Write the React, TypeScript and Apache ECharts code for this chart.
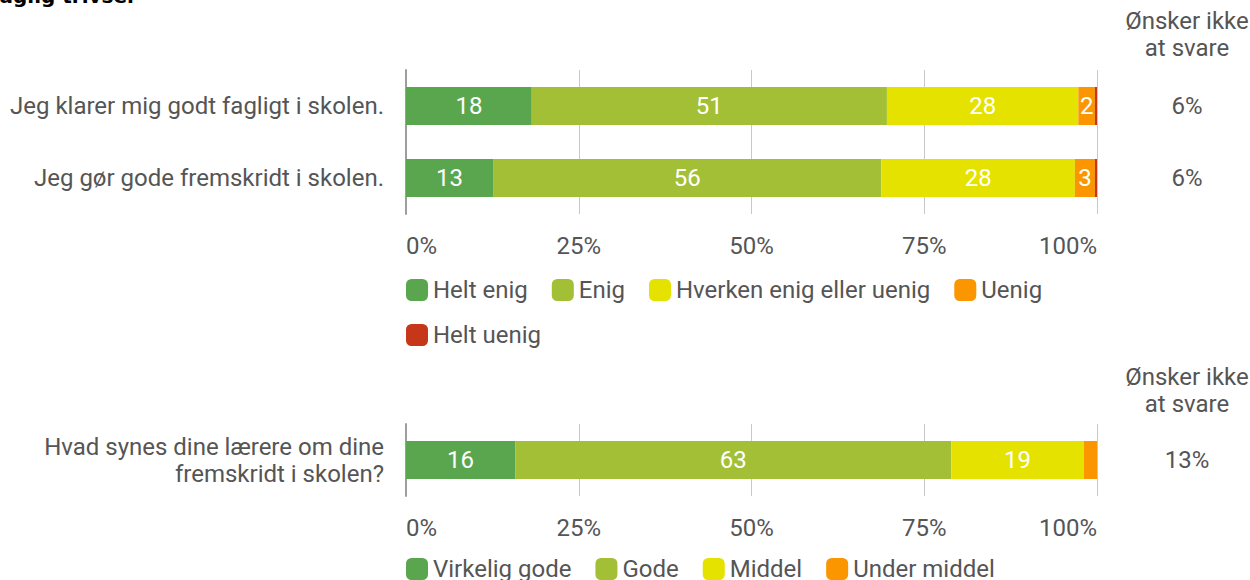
import React, { useEffect, useRef } from "react";
import * as echarts from "echarts";

const topCategories = ["Jeg klarer mig godt fagligt i skolen.", "Jeg gør gode fremskridt i skolen."];
const topSeriesNames = ["Helt enig", "Enig", "Hverken enig eller uenig", "Uenig", "Helt uenig"];
const topValues = [
  [18.2, 12.6],
  [51.4, 56.2],
  [27.7, 28.0],
  [2.4, 2.9],
  [0.3, 0.3],
];
const topNoAnswer = ["6%", "6%"];

const bottomCategories = ["Hvad synes dine lærere om dine\nfremskridt i skolen?"];
const bottomSeriesNames = ["Virkelig gode", "Gode", "Middel", "Under middel"];
const bottomValues = [[15.8], [63.1], [19.2], [1.9]];
const bottomNoAnswer = ["13%"];

const tickLabels = [0, 25, 50, 75, 100];
const colors = ["#5aa64f", "#a3bf36", "#e6e200", "#fb9600", "#c63619"];
const textColor = "#555555";
const FONT = "Roboto";
const FS = 24;

export default function App() {
  const ref = useRef<HTMLDivElement>(null);
  useEffect(() => {
    if (!ref.current) return;
    const chart = echarts.init(ref.current, null, { renderer: "svg" });

    const xAxisBase = (gridIndex: number) => ({
      type: "value",
      gridIndex,
      min: tickLabels[0],
      max: tickLabels[tickLabels.length - 1],
      interval: 25,
      axisLine: { show: false },
      axisTick: { show: false },
      splitLine: { show: true, lineStyle: { color: "#c8c8c8", width: 1 } },
      axisLabel: {
        formatter: "{value}%",
        fontSize: FS,
        fontFamily: FONT,
        color: textColor,
        margin: 20,
        alignMinLabel: "left",
        alignMaxLabel: "right",
      },
    });
    const yAxisBase = (gridIndex: number, data: string[]) => ({
      type: "category",
      gridIndex,
      data,
      inverse: true,
      axisLine: { show: true, lineStyle: { color: "#9e9e9e", width: 2 } },
      axisTick: { show: false },
      axisLabel: {
        fontSize: FS,
        fontFamily: FONT,
        color: textColor,
        margin: 22,
        lineHeight: 27,
        align: "right",
      },
    });

    const labelFmt = (p: any) => String(Math.round(p.value));

    const topSeries = topSeriesNames.map((name, i) => ({
      name,
      type: "bar",
      stack: "top",
      xAxisIndex: 0,
      yAxisIndex: 0,
      barWidth: 38,
      itemStyle: { color: colors[i] },
      label: {
        show: i < 4,
        position: "inside",
        color: "#ffffff",
        fontSize: FS,
        fontFamily: FONT,
        formatter: labelFmt,
      },
      data: topValues[i],
    }));
    const bottomSeries = bottomSeriesNames.map((name, i) => ({
      name,
      type: "bar",
      stack: "bottom",
      xAxisIndex: 1,
      yAxisIndex: 1,
      barWidth: 38,
      itemStyle: { color: colors[i] },
      label: {
        show: i < 3,
        position: "inside",
        color: "#ffffff",
        fontSize: FS,
        fontFamily: FONT,
        formatter: labelFmt,
      },
      data: bottomValues[i],
    }));

    const legendBase = {
      orient: "horizontal",
      left: 406,
      padding: 0,
      itemGap: 24,
      itemWidth: 22,
      itemHeight: 22,
      icon: "roundRect",
      textStyle: { fontSize: FS, fontFamily: FONT, color: textColor, lineHeight: 22 },
    };

    const sideText = (text: string, y: number) => ({
      type: "text",
      x: 1187,
      y,
      style: {
        text,
        align: "center",
        verticalAlign: "middle",
        font: `${FS}px ${FONT}`,
        fill: textColor,
        lineHeight: 27,
      },
    });

    chart.setOption({
      animation: false,
      grid: [
        { left: 406, right: 153, top: 70, height: 144 },
        { left: 406, right: 153, top: 424, height: 72 },
      ],
      xAxis: [xAxisBase(0), xAxisBase(1)],
      yAxis: [yAxisBase(0, topCategories), yAxisBase(1, bottomCategories)],
      legend: [
        { ...legendBase, top: 278, data: topSeriesNames.slice(0, 4) },
        { ...legendBase, top: 323, data: topSeriesNames.slice(4) },
        { ...legendBase, top: 557, data: bottomSeriesNames },
      ],
      graphic: [
        {
          type: "text",
          x: -13,
          y: 6,
          style: {
            text: "Faglig trivsel",
            font: "bold 20px 'DejaVu Sans'",
            fill: "#000000",
            verticalAlign: "bottom",
          },
        },
        sideText("Ønsker ikke\nat svare", 34),
        sideText(topNoAnswer[0], 106),
        sideText(topNoAnswer[1], 178),
        sideText("Ønsker ikke\nat svare", 390),
        sideText(bottomNoAnswer[0], 460),
      ],
      series: [...topSeries, ...bottomSeries],
    });
    return () => chart.dispose();
  }, []);

  return (
    <div
      ref={ref}
      style={{ position: "fixed", left: 0, top: 0, width: 1250, height: 580, background: "#ffffff" }}
    />
  );
}
